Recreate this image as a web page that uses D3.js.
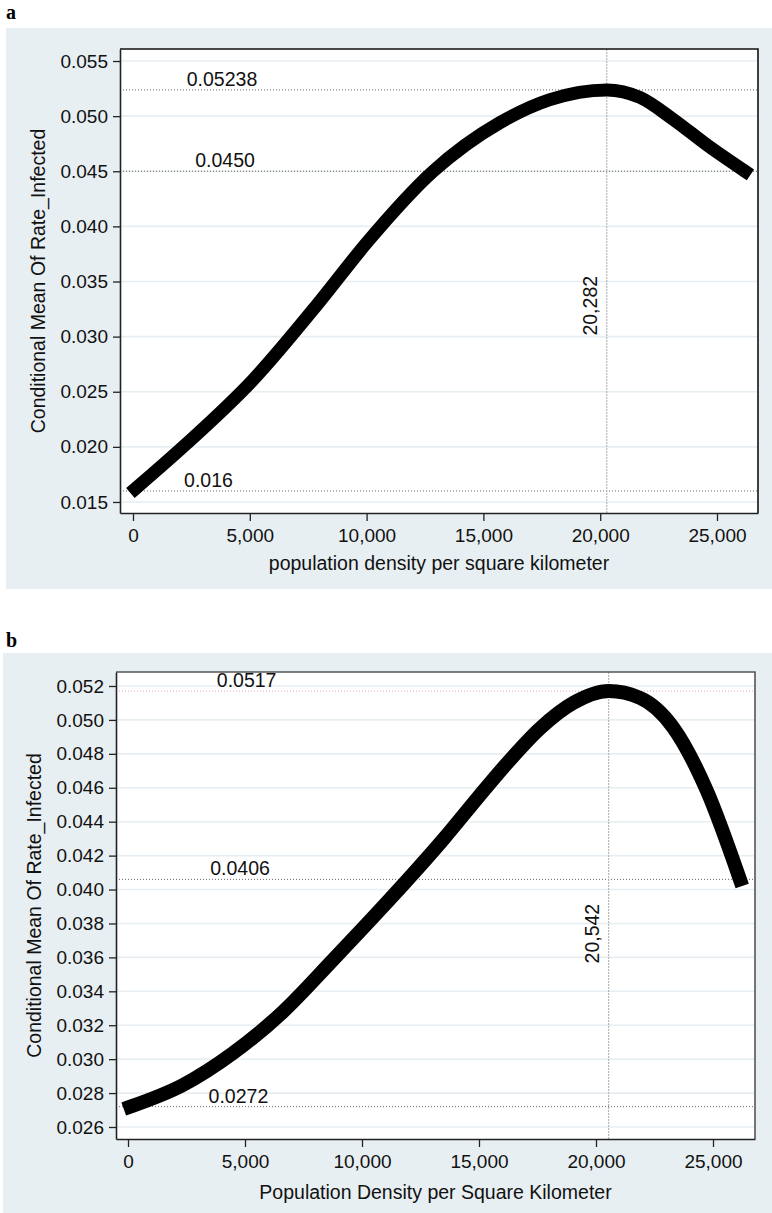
<!DOCTYPE html>
<html>
<head>
<meta charset="utf-8">
<title>Conditional Mean Of Rate_Infected by population density</title>
<script src="https://cdn.jsdelivr.net/npm/d3@7"></script>
<style>
  body { margin: 0; background: #fff; }
  svg { display: block; font-family: "Liberation Sans", Arial, sans-serif; }
  .tick text { font-size: 19px; fill: #111; }
</style>
</head>
<body>
<script>
    // ---- data ----

    // panel a
    var densityA = [100, 2300, 5150, 8000, 10000, 12850, 15700, 17850, 20282, 21700, 23130, 24560, 26200];
    var rateA = [0.0162, 0.0203, 0.0261, 0.0332, 0.0385, 0.0450, 0.0494, 0.0515, 0.05238, 0.0517, 0.0497, 0.0474, 0.0450];
    var yTicksA = [0.015, 0.020, 0.025, 0.030, 0.035, 0.040, 0.045, 0.050, 0.055];
    var refLinesA = [0.05238, 0.0450, 0.016];
    var refLabelsA = ["0.05238", "0.0450", "0.016"];
    var peakA = 20282;
    var peakLabelA = "20,282";

    // panel b
    var densityB = [100, 2340, 4470, 6610, 8750, 10890, 11900, 13500, 15000, 16300, 17610, 19030, 20542, 21880, 23300, 24730, 26150];
    var rateB = [0.0272, 0.02847, 0.03034, 0.03278, 0.03584, 0.03898, 0.0405, 0.0430, 0.0455, 0.0476, 0.0495, 0.0510, 0.0517, 0.0513, 0.04955, 0.04585, 0.0406];
    var yTicksB = [0.026, 0.028, 0.030, 0.032, 0.034, 0.036, 0.038, 0.040, 0.042, 0.044, 0.046, 0.048, 0.050, 0.052];
    var refLinesB = [0.0517, 0.0406, 0.0272];
    var refLabelsB = ["0.0517", "0.0406", "0.0272"];
    var peakB = 20542;
    var peakLabelB = "20,542";

    var xTicks = [0, 5000, 10000, 15000, 20000, 25000];

    var svg = d3.select("body").append("svg")
        .attr("width", 772)
        .attr("height", 1213);

    // draw one stata-style panel
    function drawPanel(p) {
        var g = svg.append("g");

        // outer light background
        g.append("rect")
            .attr("x", p.bg[0]).attr("y", p.bg[1])
            .attr("width", p.bg[2]).attr("height", p.bg[3])
            .attr("fill", "#e8eff2");

        // panel letter
        g.append("text")
            .attr("x", 6).attr("y", p.letterY)
            .style("font-family", "'Liberation Serif', 'Times New Roman', serif")
            .style("font-weight", "bold")
            .style("font-size", "20px")
            .text(p.letter);

        var x = d3.scaleLinear().domain(p.xDomain).range([p.left, p.right]);
        var y = d3.scaleLinear().domain(p.yDomain).range([p.bottom, p.top]);

        // plot region
        g.append("rect")
            .attr("x", p.left).attr("y", p.top)
            .attr("width", p.right - p.left).attr("height", p.bottom - p.top)
            .attr("fill", "#fff");

        // grid lines
        g.append("g").selectAll("line")
            .data(p.yTicks)
            .enter().append("line")
            .attr("x1", p.left).attr("x2", p.right)
            .attr("y1", function(d) { return y(d); })
            .attr("y2", function(d) { return y(d); })
            .attr("stroke", "#e6eef2")
            .attr("stroke-width", 1.6);

        // dotted reference lines
        g.append("g").selectAll("line")
            .data(p.refLines)
            .enter().append("line")
            .attr("x1", p.left).attr("x2", p.right)
            .attr("y1", function(d) { return y(d); })
            .attr("y2", function(d) { return y(d); })
            .attr("stroke", function(d, i) { return (p.pinkFirst && i == 0) ? "#e7a3b6" : "#666"; })
            .attr("stroke-width", 1)
            .attr("stroke-dasharray", "1,2");

        g.append("line")
            .attr("x1", x(p.peak)).attr("x2", x(p.peak))
            .attr("y1", p.top).attr("y2", p.bottom)
            .attr("stroke", "#aaa")
            .attr("stroke-width", 1)
            .attr("stroke-dasharray", "2,1");

        // the fitted curve
        var line = d3.line()
            .x(function(d) { return x(d[0]); })
            .y(function(d) { return y(d[1]); })
            .curve(d3.curveMonotoneX);

        g.append("path")
            .datum(d3.zip(p.density, p.rate))
            .attr("d", line)
            .attr("fill", "none")
            .attr("stroke", "#000")
            .attr("stroke-width", p.curveWidth)
            .attr("stroke-linecap", "square");

        // reference labels
        g.append("g").selectAll("text")
            .data(p.refLines)
            .enter().append("text")
            .attr("x", function(d, i) { return x(p.labelX[i]); })
            .attr("y", function(d) { return y(d) - 4; })
            .attr("text-anchor", "middle")
            .style("font-size", "19.5px")
            .attr("fill", "#111")
            .text(function(d, i) { return p.refLabels[i]; });

        g.append("text")
            .attr("transform", "translate(" + (x(p.peak) - 9.5) + "," + y(p.peakLabelY) + ") rotate(-90)")
            .attr("text-anchor", "middle")
            .style("font-size", "19.5px")
            .attr("fill", "#111")
            .text(p.peakLabel);

        // frame top/right
        g.append("path")
            .attr("d", "M" + p.left + "," + p.top + "H" + p.right + "V" + p.bottom)
            .attr("fill", "none")
            .attr("stroke", p.frameColor)
            .attr("stroke-width", 1.6);

        // axes
        var yAxis = d3.axisLeft(y).tickValues(p.yTicks)
            .tickFormat(d3.format(".3f")).tickSize(7).tickSizeOuter(0).tickPadding(5);
        var yg = g.append("g")
            .attr("transform", "translate(" + p.left + ",0)")
            .call(yAxis);
        yg.select(".domain").attr("stroke", "#222").attr("stroke-width", 1.6);
        yg.selectAll(".tick line").attr("stroke", "#222").attr("stroke-width", 1.3);

        var xAxis = d3.axisBottom(x).tickValues(xTicks)
            .tickFormat(d3.format(",")).tickSize(8).tickSizeOuter(0).tickPadding(8);
        var xg = g.append("g")
            .attr("transform", "translate(0," + p.bottom + ")")
            .call(xAxis);
        xg.select(".domain").attr("stroke", "#222").attr("stroke-width", 1.6);
        xg.selectAll(".tick line").attr("stroke", "#222").attr("stroke-width", 1.3);

        // axis titles
        g.append("text")
            .attr("x", (p.left + p.right) / 2)
            .attr("y", p.xTitleY)
            .attr("text-anchor", "middle")
            .style("font-size", "19.5px")
            .attr("fill", "#111")
            .text(p.xTitle);

        g.append("text")
            .attr("transform", "translate(" + p.yTitleX + "," + ((p.top + p.bottom) / 2) + ") rotate(-90)")
            .attr("text-anchor", "middle")
            .style("font-size", "19.5px")
            .attr("fill", "#111")
            .text("Conditional Mean Of Rate_Infected");
    }

    drawPanel({
        letter: "a", letterY: 19,
        bg: [6, 28, 766, 561],
        left: 120, right: 758, top: 49, bottom: 513,
        xDomain: [-556, 26755], yDomain: [0.0140, 0.05609],
        yTicks: yTicksA,
        density: densityA, rate: rateA, curveWidth: 13,
        refLines: refLinesA, refLabels: refLabelsA, labelX: [3810, 3940, 3230],
        pinkFirst: false,
        peak: peakA, peakLabel: peakLabelA, peakLabelY: 0.0328,
        frameColor: "#111",
        xTitle: "population density per square kilometer", xTitleY: 570,
        yTitleX: 45
    });

    drawPanel({
        letter: "b", letterY: 647,
        bg: [3, 653, 769, 560],
        left: 116, right: 755, top: 672, bottom: 1139,
        xDomain: [-513, 26795], yDomain: [0.025293, 0.052825],
        yTicks: yTicksB,
        density: densityB, rate: rateB, curveWidth: 14,
        refLines: refLinesB, refLabels: refLabelsB, labelX: [5070, 4790, 4720],
        pinkFirst: true,
        peak: peakB, peakLabel: peakLabelB, peakLabelY: 0.0374,
        frameColor: "#555",
        xTitle: "Population Density per Square Kilometer", xTitleY: 1199,
        yTitleX: 41
    });
</script>
</body>
</html>
